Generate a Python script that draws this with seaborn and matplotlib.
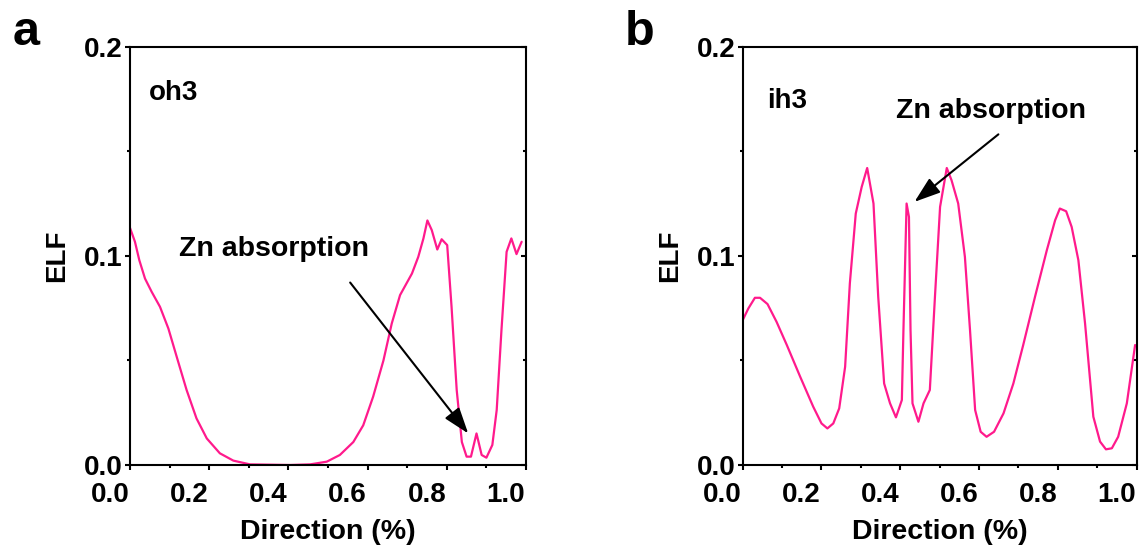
import numpy as np
import pandas as pd
import matplotlib
matplotlib.use("Agg")
import matplotlib.pyplot as plt
from matplotlib.transforms import ScaledTranslation
from matplotlib.ticker import MultipleLocator
import seaborn as sns

# ELF profile along the direction for the oh3 site
oh3_dir = [0.0, 0.0126, 0.0236, 0.038, 0.0547, 0.0758, 0.097, 0.118, 0.143, 0.168,
           0.194, 0.227, 0.261, 0.303, 0.404, 0.455, 0.497, 0.53, 0.564, 0.589,
           0.614, 0.64, 0.661, 0.682, 0.712, 0.728, 0.741, 0.751, 0.762, 0.776,
           0.787, 0.801, 0.812, 0.825, 0.838, 0.85, 0.861, 0.875, 0.888, 0.9,
           0.915, 0.926, 0.938, 0.951, 0.963, 0.976, 0.989]
oh3_elf = [0.1135, 0.1068, 0.098, 0.0892, 0.0829, 0.0757, 0.0653, 0.0518, 0.0359, 0.0223,
           0.0127, 0.0056, 0.0021, 0.0003, 0.0, 0.0003, 0.0016, 0.0048, 0.011, 0.019,
           0.0327, 0.050, 0.0677, 0.0813, 0.0916, 0.0996, 0.1084, 0.117, 0.1124, 0.1031,
           0.108, 0.1052, 0.0757, 0.0359, 0.011, 0.004, 0.004, 0.0151, 0.0048, 0.0035,
           0.0096, 0.0263, 0.0645, 0.102, 0.1084, 0.1009, 0.1068]

# ELF profile along the direction for the ih3 site
ih3_dir = [0.0, 0.0144, 0.031, 0.044, 0.063, 0.086, 0.112, 0.146, 0.179, 0.2,
           0.215, 0.23, 0.245, 0.26, 0.272, 0.287, 0.302, 0.316, 0.332, 0.344,
           0.359, 0.374, 0.389, 0.404, 0.408, 0.416, 0.422, 0.426, 0.431, 0.446,
           0.459, 0.475, 0.488, 0.501, 0.518, 0.53, 0.547, 0.564, 0.577, 0.59,
           0.604, 0.619, 0.638, 0.662, 0.687, 0.712, 0.742, 0.772, 0.793, 0.805,
           0.821, 0.835, 0.852, 0.869, 0.89, 0.907, 0.922, 0.937, 0.953, 0.975, 0.996]
ih3_elf = [0.0693, 0.0749, 0.080, 0.080, 0.077, 0.0685, 0.0574, 0.0422, 0.0279, 0.0199,
           0.0175, 0.0199, 0.0271, 0.047, 0.0869, 0.1203, 0.133, 0.1421, 0.1251, 0.0805,
           0.039, 0.0295, 0.0228, 0.0311, 0.0645, 0.1251, 0.1187, 0.0645, 0.0295, 0.0207,
           0.0295, 0.0359, 0.0805, 0.1235, 0.1421, 0.1363, 0.1251, 0.0996, 0.0645, 0.0263,
           0.0159, 0.0135, 0.0159, 0.0247, 0.039, 0.0574, 0.0805, 0.1028, 0.1171, 0.1227,
           0.1214, 0.1139, 0.098, 0.0677, 0.0231, 0.0112, 0.0075, 0.008, 0.0135, 0.0295, 0.0574]

panel_letters = ["a", "b"]
site_names = ["oh3", "ih3"]
x_ticks = [0.0, 0.2, 0.4, 0.6, 0.8, 1.0]
y_ticks = [0.0, 0.1, 0.2]

sns.set_style("ticks")
plt.rcParams["font.family"] = ["Liberation Sans", "DejaVu Sans"]
plt.rcParams["font.weight"] = "bold"
for key in ["text.color", "axes.labelcolor", "xtick.color", "ytick.color", "axes.edgecolor"]:
    plt.rcParams[key] = "black"

line_color = "#ff1a8c"

fig = plt.figure(figsize=(11.44, 5.52), dpi=100)
ax_a = fig.add_axes([0.1136, 0.1576, 0.3462, 0.7573])
ax_b = fig.add_axes([0.6492, 0.1576, 0.3444, 0.7573])

df_a = pd.DataFrame({"Direction": oh3_dir, "ELF": oh3_elf})
df_b = pd.DataFrame({"Direction": ih3_dir, "ELF": ih3_elf})

sns.lineplot(data=df_a, x="Direction", y="ELF", ax=ax_a, color=line_color, lw=1.6,
             sort=False, estimator=None)
sns.lineplot(data=df_b, x="Direction", y="ELF", ax=ax_b, color=line_color, lw=1.6,
             sort=False, estimator=None)

# tick labels on the x axis sit a little left of their ticks
shift = ScaledTranslation(-0.20, 0, fig.dpi_scale_trans)

letter_x = [-0.297, -0.299]
for ax, letter, lx in zip([ax_a, ax_b], panel_letters, letter_x):
    ax.set_xlim(0, 1.0)
    ax.set_ylim(0, 0.2)
    ax.set_xticks(x_ticks)
    ax.set_yticks(y_ticks)
    ax.set_xticklabels([f"{t:.1f}" for t in x_ticks])
    ax.set_yticklabels([f"{t:.1f}" for t in y_ticks])
    ax.xaxis.set_minor_locator(MultipleLocator(0.1))
    ax.yaxis.set_minor_locator(MultipleLocator(0.05))
    ax.tick_params(axis="both", which="major", direction="out", length=3.6, width=1.5,
                   labelsize=20, color="black", labelcolor="black")
    ax.tick_params(axis="x", which="major", pad=8.5)
    ax.tick_params(axis="y", which="major", pad=1.5)
    ax.tick_params(axis="both", which="minor", direction="out", length=2.4, width=1.5,
                   color="black")
    ax.tick_params(axis="y", which="both", right=True, labelright=False)
    for side in ["left", "right", "top", "bottom"]:
        ax.spines[side].set_visible(True)
        ax.spines[side].set_linewidth(1.5)
        ax.spines[side].set_color("black")
    ax.set_xlabel("Direction (%)", fontsize=20.5, fontweight="bold", labelpad=8)
    ax.set_ylabel("ELF", fontsize=20, fontweight="bold", labelpad=10)
    for lab in ax.get_xticklabels() + ax.get_yticklabels():
        lab.set_fontweight("bold")
    for lab in ax.get_xticklabels():
        lab.set_transform(lab.get_transform() + shift)
    ax.text(lx, 1.005, letter, transform=ax.transAxes, fontsize=35,
            fontweight="bold", ha="left", va="baseline")

# Right-hand ticks point inward
for ax in [ax_a, ax_b]:
    for t in ax.yaxis.get_major_ticks() + ax.yaxis.get_minor_ticks():
        t.tick2line.set_marker(matplotlib.lines.TICKLEFT)

ax_a.text(0.047, 0.1746, site_names[0], fontsize=20, fontweight="bold", va="baseline")
ax_b.text(0.0617, 0.1708, site_names[1], fontsize=20, fontweight="bold", va="baseline")

arrow_style = dict(arrowstyle="-|>,head_length=1.6,head_width=0.55", color="black",
                   lw=1.5, shrinkA=0, shrinkB=0)
ax_a.annotate("", xy=(0.854, 0.0151), xytext=(0.556, 0.0873), arrowprops=arrow_style)
ax_a.text(0.124, 0.100, "Zn absorption", fontsize=20.5, fontweight="bold", va="baseline")
ax_b.annotate("", xy=(0.436, 0.1259), xytext=(0.649, 0.1582), arrowprops=arrow_style)
ax_b.text(0.390, 0.166, "Zn absorption", fontsize=20.5, fontweight="bold", va="baseline")

fig.savefig("out.png", dpi=100)
